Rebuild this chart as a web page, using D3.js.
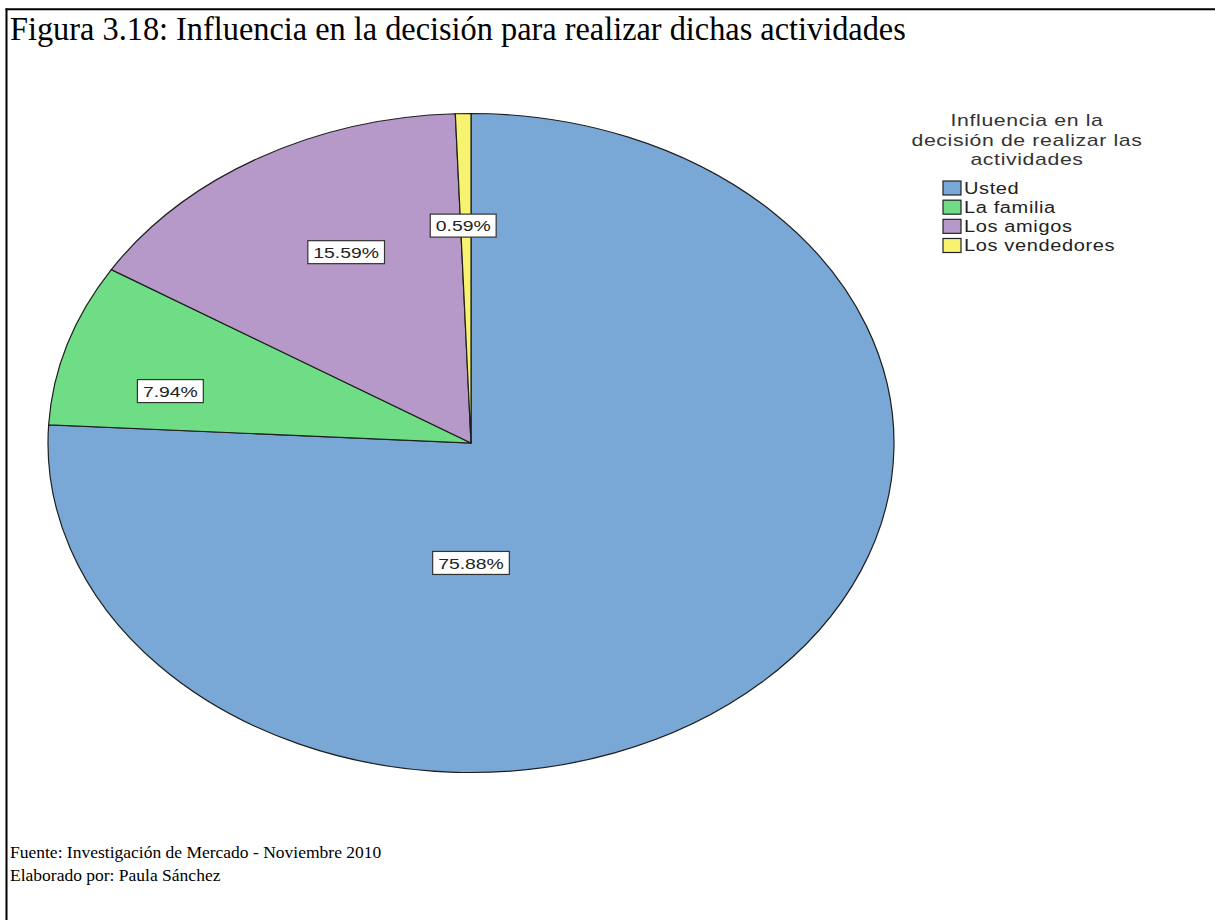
<!DOCTYPE html>
<html>
<head>
<meta charset="utf-8">
<script src="https://cdn.jsdelivr.net/npm/d3@7"></script>
<style>
  html, body { margin: 0; padding: 0; background: #fff; }
  svg { display: block; }
</style>
</head>
<body>
<svg id="chart" width="1215" height="920"></svg>
<script>
// Shares of each influence source (percent of respondents)
const categories = ["Usted", "La familia", "Los amigos", "Los vendedores"];
const values = [75.88, 7.94, 15.59, 0.59];
const sliceColors = ["#79a8d6", "#6fdd85", "#b799c9", "#f8f36e"];

const figureTitle = "Figura 3.18: Influencia en la decisión para realizar dichas actividades";
const legendTitle = ["Influencia en la", "decisión de realizar las", "actividades"];
const footerLines = ["Fuente: Investigación de Mercado - Noviembre 2010", "Elaborado por: Paula Sánchez"];

const svg = d3.select("#chart");
const W = 1215, H = 920;

// Frame (top and left rules of the figure box)
svg.append("line").attr("x1", 5.5).attr("x2", W).attr("y1", 9.3).attr("y2", 9.3)
  .attr("stroke", "#000").attr("stroke-width", 2);
svg.append("line").attr("x1", 6.5).attr("x2", 6.5).attr("y1", 8.5).attr("y2", H)
  .attr("stroke", "#000").attr("stroke-width", 2);

// Figure caption
svg.append("text")
  .attr("transform", "translate(10,40) scale(0.98,1)")
  .attr("font-family", "'Liberation Serif', 'Times New Roman', serif")
  .attr("font-size", 33)
  .attr("fill", "#000")
  .text(figureTitle);

// Source lines
svg.selectAll("text.footer").data(footerLines).join("text")
  .attr("class", "footer")
  .attr("x", 10)
  .attr("y", (d, i) => 858 + i * 23)
  .attr("font-family", "'Liberation Serif', 'Times New Roman', serif")
  .attr("font-size", 17.5)
  .attr("fill", "#000")
  .text(d => d);

// Pie: drawn as a circle and stretched horizontally into an ellipse
const cx = 471, cy = 443;
const ry = 329.5, rx = 423;
const sx = rx / ry;

const pie = d3.pie().sort(null).value(d => d.value);
const arcs = pie(categories.map((c, i) => ({ name: c, value: values[i], color: sliceColors[i] })));
const arc = d3.arc().innerRadius(0).outerRadius(ry);

const pieG = svg.append("g").attr("transform", `translate(${cx},${cy}) scale(${sx},1)`);
pieG.selectAll("path").data(arcs).join("path")
  .attr("d", arc)
  .attr("fill", d => d.data.color)
  .attr("stroke", "#1e1e1e")
  .attr("stroke-width", 1.2)
  .attr("vector-effect", "non-scaling-stroke");

// Label placement: angle (degrees, clockwise from top) and radial fraction
const labelPlacement = [
  { angle: 180, r: 0.364 },
  { angle: 282.5, r: 0.728 },
  { angle: 333, r: 0.65 },
  { angle: 358.4, r: 0.66 }
];

const labelFont = "'Liberation Sans', Arial, sans-serif";
const textScale = 1.25;

const labelG = svg.append("g");
arcs.forEach((a, i) => {
  const p = labelPlacement[i];
  const ang = p.angle * Math.PI / 180;
  const lx = cx + Math.sin(ang) * ry * p.r * sx;
  const ly = cy - Math.cos(ang) * ry * p.r;
  const txt = d3.format(".2f")(a.data.value) + "%";
  const g = labelG.append("g").attr("transform", `translate(${lx},${ly})`);
  const rect = g.append("rect");
  const t = g.append("text")
    .attr("transform", `scale(${textScale},1)`)
    .attr("text-anchor", "middle")
    .attr("dy", "0.36em")
    .attr("font-family", labelFont)
    .attr("font-size", 15.5)
    .attr("fill", "#222")
    .text(txt);
  const w = t.node().getComputedTextLength() * textScale + 11;
  const h = 23;
  rect.attr("x", -w / 2).attr("y", -h / 2).attr("width", w).attr("height", h)
    .attr("fill", "#fff").attr("stroke", "#333").attr("stroke-width", 1.2);
});

// Legend
const legG = svg.append("g");
const legCx = 1027;
legG.selectAll("text.ltitle").data(legendTitle).join("text")
  .attr("class", "ltitle")
  .attr("transform", (d, i) => `translate(${legCx},${126 + i * 19.5}) scale(${textScale},1)`)
  .attr("text-anchor", "middle")
  .attr("font-family", labelFont)
  .attr("font-size", 17)
  .attr("letter-spacing", 0.5)
  .attr("fill", "#333")
  .text(d => d);

const itemY = d3.scalePoint().domain(categories).range([188, 245.5]);
const items = legG.selectAll("g.item").data(categories).join("g")
  .attr("class", "item")
  .attr("transform", d => `translate(0,${itemY(d)})`);
items.append("rect")
  .attr("x", 943).attr("y", -7).attr("width", 18).attr("height", 14)
  .attr("fill", (d, i) => sliceColors[i])
  .attr("stroke", "#222").attr("stroke-width", 1.2);
items.append("text")
  .attr("transform", `translate(964,0) scale(${textScale},1)`)
  .attr("dy", "0.36em")
  .attr("font-family", labelFont)
  .attr("font-size", 16)
  .attr("letter-spacing", 0.5)
  .attr("fill", "#222")
  .text(d => d);
</script>
</body>
</html>
